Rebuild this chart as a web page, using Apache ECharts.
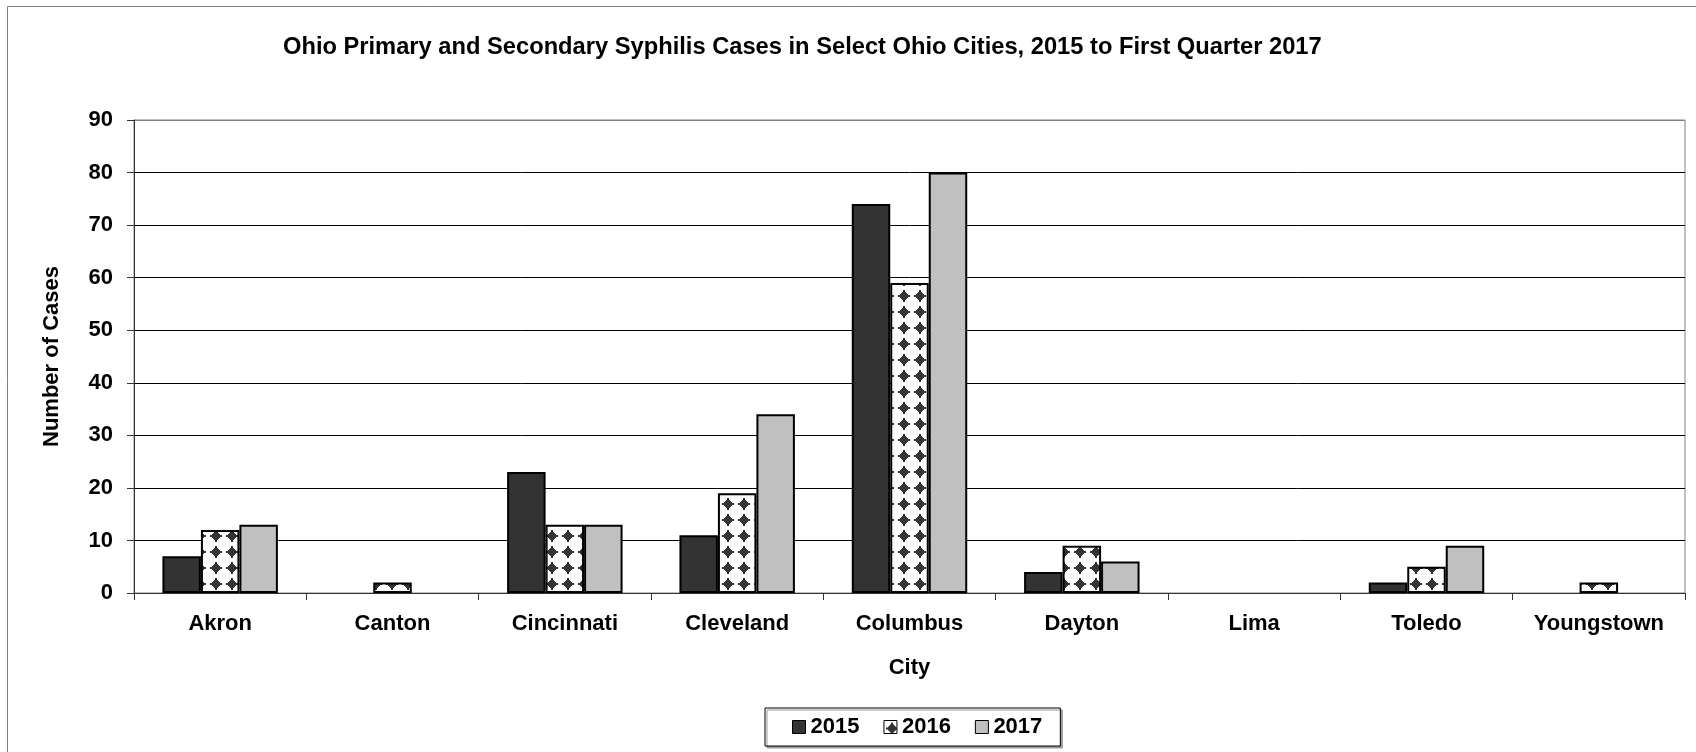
<!DOCTYPE html>
<html>
<head>
<meta charset="utf-8">
<script src="https://cdn.jsdelivr.net/npm/echarts@6/dist/echarts.min.js"></script>
<style>
html,body{margin:0;padding:0;background:#fff;}
#chart{width:1696px;height:752px;}
</style>
</head>
<body>
<div id="chart"></div>
<script>
var titleText = 'Ohio Primary and Secondary Syphilis Cases in Select Ohio Cities, 2015 to First Quarter 2017';
var cities = ['Akron','Canton','Cincinnati','Cleveland','Columbus','Dayton','Lima','Toledo','Youngstown'];
var seriesNames = ['2015','2016','2017'];
var cases2015 = [7, 0, 23, 11, 74, 4, 0, 2, 0];
var cases2016 = [12, 2, 13, 19, 59, 9, 0, 5, 2];
var cases2017 = [13, 0, 13, 34, 80, 6, 0, 9, 0];
var yTicks = [0, 10, 20, 30, 40, 50, 60, 70, 80, 90];

function makePattern() {
  var c = document.createElement('canvas');
  c.width = 16; c.height = 16;
  var ctx = c.getContext('2d');
  ctx.fillStyle = '#ffffff';
  ctx.fillRect(0, 0, 16, 16);
  ctx.fillStyle = '#333333';
  var cx = 8, cy = 8;
  var rows = [[-6,2],[-5,2],[-4,4],[-3,6],[-2,8],[-1,12],[0,12],[1,8],[2,6],[3,4],[4,2],[5,2]];
  rows.forEach(function (r) {
    var w = r[1];
    ctx.fillRect(cx - w / 2, cy + r[0], w, 1);
  });
  return c;
}
var pat = makePattern();

var chart = echarts.init(document.getElementById('chart'), null, {renderer: 'canvas'});
var font = '"Liberation Sans", Arial, sans-serif';
var dataArr = [cases2015, cases2016, cases2017];
var colors = ['#333333', {image: pat, repeat: 'repeat'}, '#C0C0C0'];
var gridColors = yTicks.map(function (t, i) { return i === yTicks.length - 1 ? '#808080' : '#000'; });

chart.setOption({
  animation: false,
  backgroundColor: '#ffffff',
  textStyle: {fontFamily: font},
  graphic: [{
    type: 'rect',
    shape: {x: 7.5, y: 6.5, width: 1700, height: 760},
    style: {fill: 'none', stroke: '#808080', lineWidth: 1},
    z: -1
  }],
  title: {
    text: titleText,
    left: 283, top: 35, padding: 0,
    textStyle: {fontSize: 23.7, fontWeight: 'bold', color: '#000', fontFamily: font}
  },
  legend: {
    data: seriesNames,
    left: 765, top: 708,
    padding: [8, 18, 8, 27],
    itemGap: 24,
    itemWidth: 13, itemHeight: 13,
    icon: 'rect',
    borderColor: '#000', borderWidth: 1,
    backgroundColor: '#fff',
    shadowColor: '#999', shadowOffsetX: 2, shadowOffsetY: 2, shadowBlur: 0,
    itemStyle: {borderColor: '#000', borderWidth: 1},
    textStyle: {fontSize: 22, fontWeight: 'bold', color: '#000', fontFamily: font}
  },
  grid: {
    left: 134, right: 11, top: 120, bottom: 159,
    show: true, borderColor: '#808080', borderWidth: 1, backgroundColor: '#fff'
  },
  xAxis: {
    type: 'category',
    data: cities,
    name: 'City',
    nameLocation: 'middle',
    nameGap: 64,
    nameTextStyle: {fontSize: 22, fontWeight: 'bold', color: '#000'},
    axisLine: {show: true, lineStyle: {color: '#333', width: 1}},
    axisTick: {show: true, length: 7, interval: 0, lineStyle: {color: '#333'}},
    axisLabel: {interval: 0, margin: 20, fontSize: 22, fontWeight: 'bold', color: '#000'},
    splitLine: {show: false}
  },
  yAxis: {
    type: 'value',
    min: yTicks[0], max: yTicks[yTicks.length - 1], interval: 10,
    name: 'Number of Cases',
    nameLocation: 'middle',
    nameGap: 71,
    nameRotate: 90,
    nameTextStyle: {fontSize: 22, fontWeight: 'bold', color: '#000'},
    axisLine: {show: true, lineStyle: {color: '#333', width: 1}},
    axisTick: {show: true, length: 7, lineStyle: {color: '#333'}},
    axisLabel: {margin: 21, fontSize: 22, fontWeight: 'bold', color: '#000'},
    splitLine: {show: true, lineStyle: {color: gridColors, width: 1}}
  },
  series: seriesNames.map(function (n, i) {
    return {
      name: n,
      type: 'bar',
      data: dataArr[i].map(function (v) { return v === 0 ? null : v; }),
      barGap: '0%',
      barCategoryGap: '33%',
      itemStyle: {color: colors[i], borderColor: '#000', borderWidth: 2}
    };
  })
});
</script>
</body>
</html>
